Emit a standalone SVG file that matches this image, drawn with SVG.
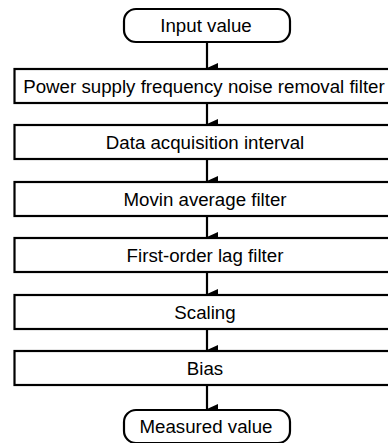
<svg xmlns="http://www.w3.org/2000/svg" width="388" height="443" viewBox="0 0 388 443">
<style>
.box{fill:#fff;stroke:#000;stroke-width:2.2}
.t{font-family:"Liberation Sans",Arial,sans-serif;font-size:18.7px;fill:#000;text-anchor:middle}
.c{stroke:#000;stroke-width:2.2;fill:none}
</style>
<defs>
<marker id="ah" markerWidth="10" markerHeight="12" refX="5" refY="11" orient="auto-start-reverse" markerUnits="userSpaceOnUse" viewBox="0 0 10 12">
<path d="M0,0 L10,0 L5,11 Z" fill="#000"/>
</marker>
</defs>
<rect width="388" height="443" fill="#fff"/>
<g id="connectors">
<line class="c" x1="207" y1="42" x2="207" y2="68" marker-end="url(#ah)"/>
<line class="c" x1="207" y1="103" x2="207" y2="124" marker-end="url(#ah)"/>
<line class="c" x1="207" y1="159" x2="207" y2="181" marker-end="url(#ah)"/>
<line class="c" x1="207" y1="216" x2="207" y2="237" marker-end="url(#ah)"/>
<line class="c" x1="207" y1="272" x2="207" y2="294" marker-end="url(#ah)"/>
<line class="c" x1="207" y1="329" x2="207" y2="350" marker-end="url(#ah)"/>
<line class="c" x1="207" y1="385" x2="207" y2="409" marker-end="url(#ah)"/>
</g>
<g id="input">
<rect class="box" x="124" y="9" width="166" height="33" rx="12"/>
<text class="t" x="206" y="32">Input value</text>
</g>
<g id="power">
<rect class="box" x="14.5" y="69" width="376" height="34"/>
<text class="t" x="204" y="93">Power supply frequency noise removal filter</text>
</g>
<g id="acq">
<rect class="box" x="14.5" y="125" width="376" height="34"/>
<text class="t" x="205" y="149">Data acquisition interval</text>
</g>
<g id="moving">
<rect class="box" x="14.5" y="182" width="376" height="34"/>
<text class="t" x="205" y="206">Movin average filter</text>
</g>
<g id="lag">
<rect class="box" x="14.5" y="238" width="376" height="34"/>
<text class="t" x="205" y="262">First-order lag filter</text>
</g>
<g id="scaling">
<rect class="box" x="14.5" y="295" width="376" height="34"/>
<text class="t" x="205" y="319">Scaling</text>
</g>
<g id="bias">
<rect class="box" x="14.5" y="351" width="376" height="34"/>
<text class="t" x="205" y="375">Bias</text>
</g>
<g id="measured">
<rect class="box" x="124" y="410" width="166" height="33" rx="12"/>
<text class="t" x="206" y="433">Measured value</text>
</g>
</svg>
